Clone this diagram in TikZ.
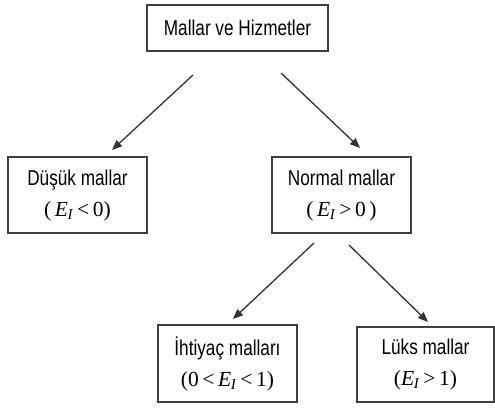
\documentclass[tikz,border=0pt]{standalone}
\usepackage{fontspec}
\setmainfont[FakeStretch=0.8]{Liberation Sans}
\newfontfamily\tnr{Liberation Serif}
\usetikzlibrary{arrows.meta}
\newcommand{\EI}{\textit{E}\textsubscript{\kern-0.5pt\textit{I}}}
\tikzset{
  boxnode/.style={draw=black!75, line width=1.4pt, minimum width=139pt, minimum height=76pt, align=center, inner sep=0pt, font=\fontsize{21.5}{33}\selectfont},
  arr/.style={draw=black!80, line width=1.3pt, -{Triangle[length=10pt,width=8pt]}}
}
\begin{document}
\begin{tikzpicture}[x=1pt,y=-1pt]
\useasboundingbox (0,0) rectangle (495,409);
\node[boxnode, minimum width=181pt, minimum height=46pt] (top) at (237.5,28) {Mallar ve Hizmetler};
\node[boxnode] (dusuk) at (77.5,195) {Düşük mallar\\[-2pt]{\tnr\fontsize{21.5}{24}\selectfont(\,\EI\,<\,0)}};
\node[boxnode] (normal) at (341.5,195) {Normal mallar\\[-2pt]{\tnr\fontsize{21.5}{24}\selectfont(\,\EI\,>\,0\,)}};
\node[boxnode, minimum height=77pt] (ihtiyac) at (227.5,363.5) {İhtiyaç malları\\[-2pt]{\tnr\fontsize{21.5}{24}\selectfont(0\,<\,\EI\,<\,1)}};
\node[boxnode, minimum width=137pt, minimum height=75pt] (luks) at (425.5,364.5) {Lüks mallar\\[-2pt]{\tnr\fontsize{21.5}{24}\selectfont(\EI\,>\,1)}};
\coordinate (a1s) at (193,75);
\coordinate (a1e) at (112,150);
\coordinate (a2s) at (281,73);
\coordinate (a2e) at (360,148);
\coordinate (a3s) at (314,243);
\coordinate (a3e) at (233,319);
\coordinate (a4s) at (349,245);
\coordinate (a4e) at (428,322);
\draw[arr] (a1s) -- (a1e);
\draw[arr] (a2s) -- (a2e);
\draw[arr] (a3s) -- (a3e);
\draw[arr] (a4s) -- (a4e);
\end{tikzpicture}
\end{document}
